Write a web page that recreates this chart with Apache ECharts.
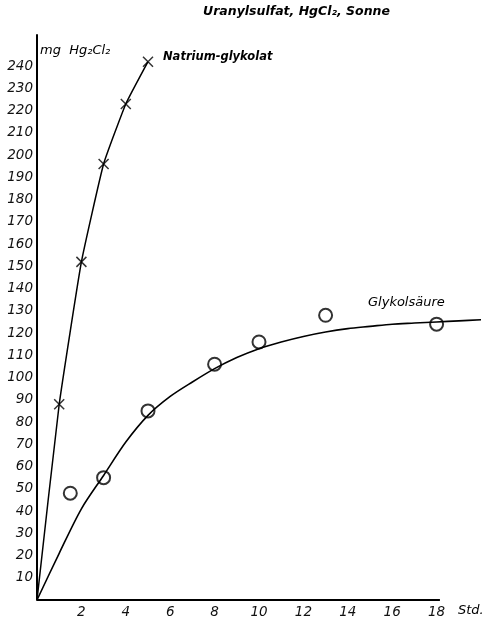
<!DOCTYPE html>
<html>
<head>
<meta charset="utf-8">
<script src="https://cdn.jsdelivr.net/npm/echarts@6/dist/echarts.min.js"></script>
<style>html,body{margin:0;padding:0;background:#fff}#c{width:484px;height:620px}</style>
</head>
<body>
<div id="c"></div>
<script>
// Natrium-glykolat measured points (crosses)
var natriumX = [1, 2, 3, 4, 5];
var natriumY = [88, 152, 196, 223, 242];
// Natrium-glykolat drawn curve
var natriumCurveX = [0, 1, 2, 3, 4, 5];
var natriumCurveY = [0, 88, 152, 196, 223, 242];
// Glykolsäure measured points (circles)
var glykolX = [1.5, 3, 5, 8, 10, 13, 18];
var glykolY = [48, 55, 85, 106, 116, 128, 124];
// Glykolsäure drawn curve
var glykolCurveX = [0, 1, 2, 3, 4, 5, 6, 7, 8, 9, 10, 11, 12, 13, 14, 15, 16, 17, 18, 19, 20];
var glykolCurveY = [0, 21, 41, 56, 71, 83, 91.5, 98, 104, 109, 113, 116, 118.5, 120.5, 122, 123, 124, 124.5, 125, 125.5, 126];
// axis ticks
var xTicks = [2, 4, 6, 8, 10, 12, 14, 16, 18];
var xAxisEnd = 18.15;
var yTickMax = 240;

var FONT = "'DejaVu Sans', sans-serif";

function pairs(xs, ys) { return xs.map(function (x, i) { return [x, ys[i]]; }); }

var chart = echarts.init(document.getElementById('c'), null, { renderer: 'canvas' });
chart.setOption({
  backgroundColor: '#fff',
  animation: false,
  grid: { left: 37, right: 1, top: 35, bottom: 20 },
  xAxis: {
    type: 'value', min: 0, max: 20, interval: 2,
    axisLine: { show: false },
    axisTick: { show: false },
    splitLine: { show: false },
    axisLabel: {
      margin: 5, color: '#111', fontSize: 13.5, fontStyle: 'italic', fontFamily: FONT,
      formatter: function (v) { return xTicks.indexOf(v) >= 0 ? String(v) : ''; }
    }
  },
  yAxis: {
    type: 'value', min: 0, max: 254, interval: 10,
    axisLine: { show: true, lineStyle: { color: '#000', width: 2 } },
    axisTick: { show: false },
    splitLine: { show: false },
    axisLabel: {
      margin: 4, color: '#111', fontSize: 13.5, fontStyle: 'italic', fontFamily: FONT,
      formatter: function (v) { return (v > 0 && v <= yTickMax) ? String(v) : ''; }
    }
  },
  series: [
    {
      type: 'line', data: pairs(natriumCurveX, natriumCurveY), smooth: 0.12,
      showSymbol: false, symbol: 'none',
      lineStyle: { color: '#000', width: 1.5 },
      markLine: {
        silent: true, symbol: 'none', label: { show: false },
        lineStyle: { color: '#000', width: 2, type: 'solid' },
        data: [[{ coord: [0, 0] }, { coord: [xAxisEnd, 0] }]]
      }
    },
    {
      type: 'scatter', data: pairs(natriumX, natriumY),
      symbol: 'path://M0,0L10,10M10,0L0,10', symbolSize: 10,
      itemStyle: { color: '#000', borderColor: '#000', borderWidth: 1.5 }
    },
    {
      type: 'line', data: pairs(glykolCurveX, glykolCurveY), smooth: 0.3,
      showSymbol: false, symbol: 'none',
      lineStyle: { color: '#000', width: 1.6 }
    },
    {
      type: 'scatter', data: pairs(glykolX, glykolY),
      symbol: 'emptyCircle', symbolSize: 13,
      itemStyle: { color: '#000', borderColor: '#000', borderWidth: 1.5 }
    }
  ],
  graphic: [
    { type: 'text', left: 203, top: 5, style: { text: 'Uranylsulfat, HgCl₂, Sonne', font: "italic bold 12.5px 'DejaVu Sans', sans-serif", fill: '#000' } },
    { type: 'text', left: 40, top: 44, style: { text: 'mg  Hg₂Cl₂', font: "italic 13px 'DejaVu Sans', sans-serif", fill: '#000' } },
    { type: 'text', left: 163, top: 51, style: { text: 'Natrium-glykolat', font: "italic bold 11.5px 'DejaVu Sans', sans-serif", fill: '#000' } },
    { type: 'text', left: 368, top: 296, style: { text: 'Glykolsäure', font: "italic 13px 'DejaVu Sans', sans-serif", fill: '#000' } },
    { type: 'text', left: 458, top: 604, style: { text: 'Std.', font: "italic 13px 'DejaVu Sans', sans-serif", fill: '#000' } }
  ]
});
</script>
</body>
</html>
